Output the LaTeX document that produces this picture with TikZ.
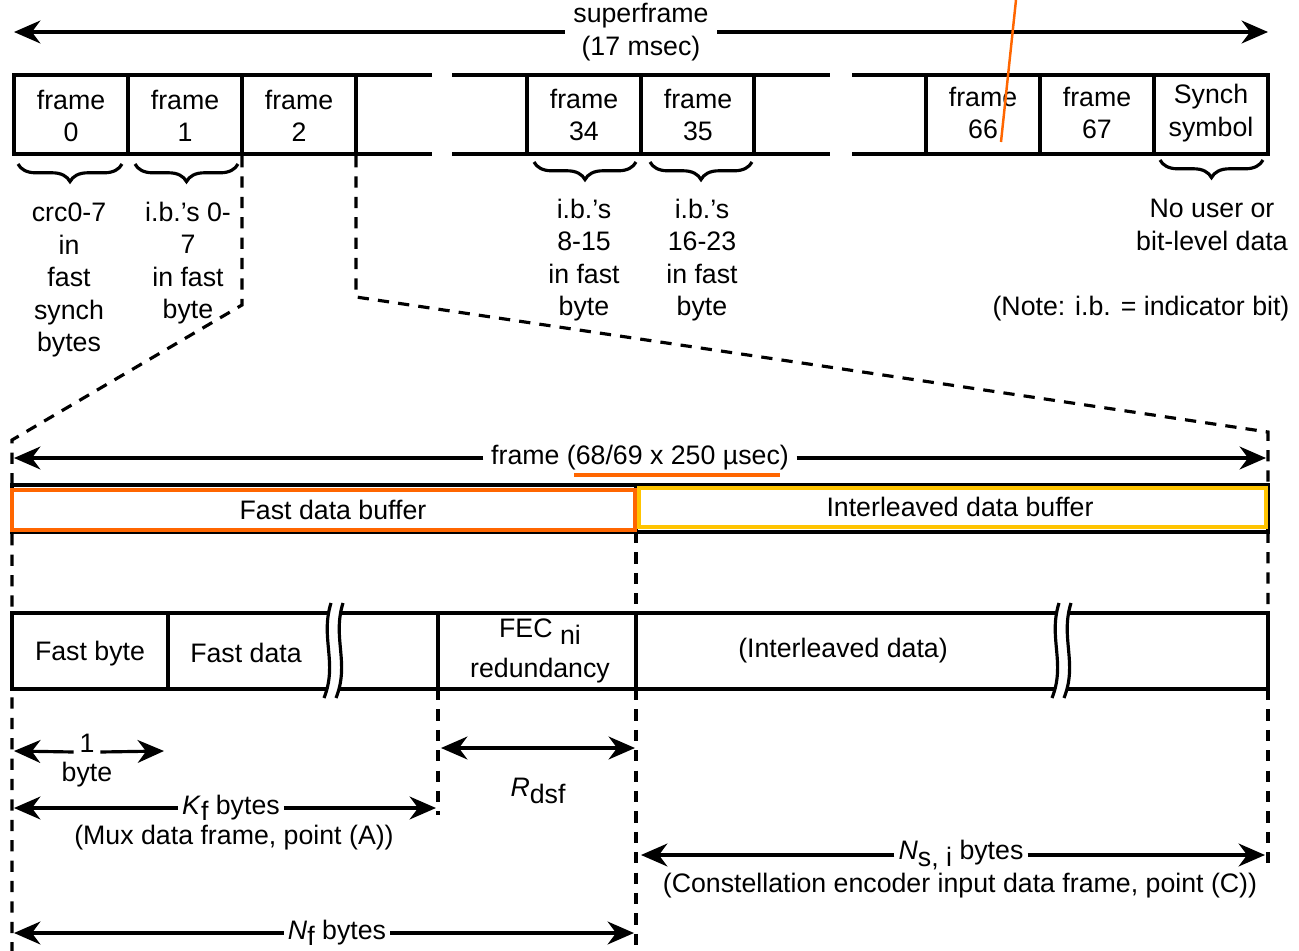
\documentclass[tikz,border=0pt]{standalone}
\usepackage{fontspec}
\setmainfont{Liberation Sans}
\usetikzlibrary{arrows.meta,decorations.pathreplacing}
\definecolor{annor}{RGB}{255,102,0}
\definecolor{annyl}{RGB}{255,196,0}
\newcommand{\lowsub}[1]{\raisebox{-1.8pt}{#1}}
\begin{document}
\begin{tikzpicture}[x=0.01cm,y=-0.01cm,
  font=\fontsize{7.6}{9.25}\selectfont,
  txt/.style={inner sep=1pt,align=center},
  lab/.style={inner sep=1pt,align=center},
  row/.style={line width=0.95pt},
  dsh/.style={line width=0.9pt,dash pattern=on 3.2pt off 2.6pt},
  dim/.style={line width=0.9pt,-{Stealth[length=7.5pt,width=6.5pt,inset=2.4pt]}},
  dimb/.style={line width=0.9pt,{Stealth[length=7.5pt,width=6.5pt,inset=2.4pt]}-{Stealth[length=7.5pt,width=6.5pt,inset=2.4pt]}},
  brc/.style={decorate,decoration={brace,mirror,amplitude=5pt},line width=0.9pt},
  brk/.pic={
    \fill[white] (3,-10) .. controls (-8,25) and (10,50) .. (-4,85) -- (8,85)
       .. controls (22,50) and (4,25) .. (15,-10) -- cycle;
    \draw[line width=0.9pt] (3,-10) .. controls (-8,25) and (10,50) .. (-4,85);
    \draw[line width=0.9pt] (15,-10) .. controls (4,25) and (22,50) .. (8,85);
  }]
\useasboundingbox (0,0) rectangle (1299,951);

% ---------- superframe arrow
\node[inner sep=2.2pt,align=center] (sf) at (641,32) {superframe\\(17 msec)};
\coordinate (sfL) at (14,32);
\coordinate (sfR) at (1268,32);
\draw[dim] (sf.west) -- (sfL);
\draw[dim] (sf.east) -- (sfR);

% ---------- superframe row
\draw[row] (432,75) -- (14,75) -- (14,154) -- (432,154);
\foreach \x in {128,242,356} \draw[row] (\x,75) -- (\x,154);
\draw[row] (452,75) -- (830,75);
\draw[row] (452,154) -- (830,154);
\foreach \x in {527,641,754} \draw[row] (\x,75) -- (\x,154);
\draw[row] (852,75) -- (1268,75) -- (1268,154) -- (852,154);
\foreach \x in {926,1040,1154} \draw[row] (\x,75) -- (\x,154);

\node[txt] (f0) at (71,116) {frame\\0};
\node[txt] (f1) at (185,116) {frame\\1};
\node[txt] (f2) at (299,116) {frame\\2};
\node[txt] (f34) at (584,115) {frame\\34};
\node[txt] (f35) at (698,115) {frame\\35};
\node[txt] (f66) at (983,113) {frame\\66};
\node[txt] (f67) at (1097,113) {frame\\67};
\node[txt] (fsy) at (1211,113) {Synch\\symbol};

% ---------- braces
\draw[brc] (18,164) -- (122,164);
\draw[brc] (135,164) -- (238,164);
\draw[brc] (534,162) -- (636,162);
\draw[brc] (650,162) -- (752,162);
\draw[brc] (1160,160) -- (1263,160);

\node[txt] (c0) at (69,280) {crc0-7\\in\\fast\\synch\\bytes};
\node[txt] (c1) at (188,263) {i.b.’s 0-\\7\\in fast\\byte};
\node[txt] (c34) at (584,260) {i.b.’s\\8-15\\in fast\\byte};
\node[txt] (c35) at (702,260) {i.b.’s\\16-23\\in fast\\byte};
\node[txt] (csy) at (1212,225) {No user or\\bit-level data};
\node[txt] (note) at (1141,309) {(Note: i.b. = indicator bit)};

% ---------- dashed expansion lines
\draw[dsh] (242,156) -- (242,305) -- (12,440) -- (12,951);
\draw[dsh] (356,156) -- (356,297) -- (1268,432) -- (1268,613);
\draw[dsh] (1268,689) -- (1268,865);
\draw[dsh] (636,532) -- (636,613);
\draw[dsh] (636,689) -- (636,951);
\draw[dsh] (438,689) -- (438,815);

% ---------- frame arrow
\node[inner sep=2pt] (fr) at (640,458) {frame (68/69 x 250 µsec)};
\coordinate (frL) at (14,458);
\coordinate (frR) at (1266,458);
\draw[dim] (fr.west) -- (frL);
\draw[dim] (fr.east) -- (frR);
\draw[annor,line width=1pt] (574,475) -- (780,475);

% ---------- buffer row
\draw[row] (12,485) rectangle (1268,532);
\draw[row] (636,485) -- (636,532);
\draw[annor,line width=1.2pt] (12,490) rectangle (635,530);
\draw[annyl,line width=1.2pt] (639,488) rectangle (1266,527);
\node[txt] (fdb) at (333,510) {Fast data buffer};
\node[txt] (idb) at (960,507) {Interleaved data buffer};

% ---------- data row
\draw[row] (12,613) rectangle (1268,689);
\foreach \x in {168,438,636} \draw[row] (\x,613) -- (\x,689);
\pic at (328,613) {brk};
\pic at (1056,613) {brk};
\node[txt] (fbyte) at (90,654) {Fast byte};
\node[txt] (fdata) at (246,653) {Fast data};
\node[txt] (fec) at (540,651) {FEC \lowsub{ni}\\[2pt]redundancy};
\node[txt] (ild) at (843,651) {(Interleaved data)};

% ---------- dimensions
\node[inner sep=1.5pt,anchor=base] (one) at (87,752) {1};
\coordinate (oneL) at (14,751);
\coordinate (oneR) at (164,751);
\draw[dim] (one.base west) -- (oneL);
\draw[dim] (one.base east) -- (oneR);
\node[txt] (byte) at (87,775) {byte};

\coordinate (rdL) at (441,748);
\coordinate (rdR) at (635,748);
\draw[dimb] (rdL) -- (rdR);
\node[txt] (rdsf) at (538,791) {\textit{R}\lowsub{dsf}};

\node[lab] (kf) at (231,808) {\textit{K}\lowsub{f} bytes};
\coordinate (kfL) at (14,808);
\coordinate (kfR) at (436,808);
\draw[dim] (kf.west) -- (kfL);
\draw[dim] (kf.east) -- (kfR);
\node[txt] (mux) at (234,838) {(Mux data frame, point (A))};

\node[lab] (nsi) at (961,855) {\textit{N}\lowsub{s, i} bytes};
\coordinate (nsL) at (641,855);
\coordinate (nsR) at (1265,855);
\draw[dim] (nsi.west) -- (nsL);
\draw[dim] (nsi.east) -- (nsR);
\node[txt] (cons) at (960,886) {(Constellation encoder input data frame, point (C))};

\node[lab] (nf) at (337,933) {\textit{N}\lowsub{f} bytes};
\coordinate (nfL) at (14,933);
\coordinate (nfR) at (634,933);
\draw[dim] (nf.west) -- (nfL);
\draw[dim] (nf.east) -- (nfR);

% ---------- annotation stroke
\draw[annor,line width=0.7pt] (1016,0) -- (1001,142);
\end{tikzpicture}
\end{document}
